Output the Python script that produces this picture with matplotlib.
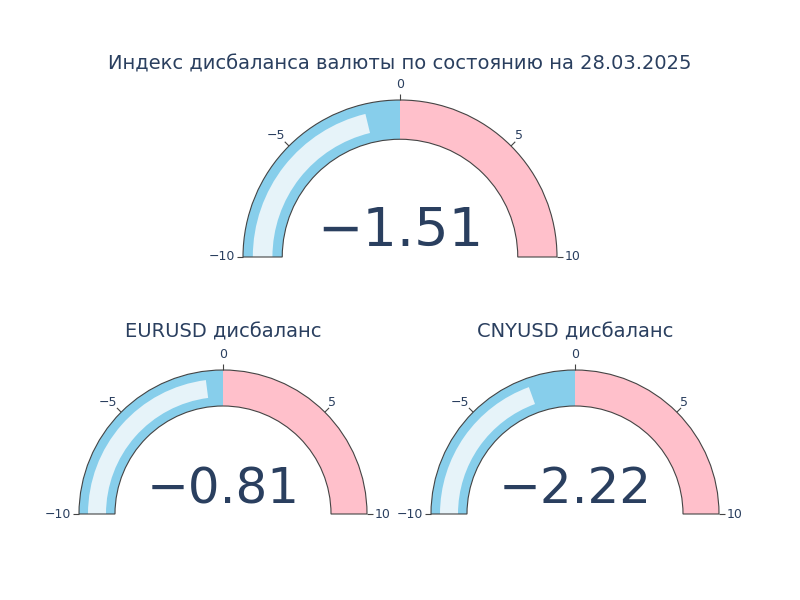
import numpy as np
import matplotlib
matplotlib.use("Agg")
import matplotlib.pyplot as plt
from matplotlib.patches import Wedge

# data
title = "Индекс дисбаланса валюты по состоянию на 28.03.2025"
gauge_titles = ["", "EURUSD дисбаланс", "CNYUSD дисбаланс"]
gauge_values = [-1.51, -0.81, -2.22]
axis_range = [-10, 10]
tick_values = [-10, -5, 0, 5, 10]
step_ranges = [(-10, 0), (0, 10)]
step_colors = ["#87ceeb", "#ffc0cb"]

TEXT = "#2a3f5f"
BORDER = "#444444"
BAR = "#e6f3f9"

plt.rcParams["font.family"] = ["DejaVu Sans"]

W, H = 800, 600
fig = plt.figure(figsize=(8, 6), dpi=100)
ax = fig.add_axes([0, 0, 1, 1])
ax.set_xlim(0, W)
ax.set_ylim(0, H)
ax.set_aspect("equal")
ax.axis("off")


def angle(v):
    lo, hi = axis_range
    return 180.0 - (v - lo) / (hi - lo) * 180.0


# gauge layout: centre (pixels, y up), outer radius, value font size
layout = [((400, 343), 157, 39), ((223, 86), 144, 36), ((575, 86), 144, 36)]

for ((cx, cy), R, vsize), name, val in zip(layout, gauge_titles, gauge_values):
    r_in = 0.75 * R
    band = R - r_in
    for (a, b), c in zip(step_ranges, step_colors):
        ax.add_patch(Wedge((cx, cy), R, angle(b), angle(a), width=band,
                           facecolor=c, edgecolor="none"))
    # value bar
    ax.add_patch(Wedge((cx, cy), R - band * 0.25, angle(val), angle(axis_range[0]),
                       width=band * 0.5, facecolor=BAR, edgecolor="none"))
    # border
    ax.add_patch(Wedge((cx, cy), R, 0, 180, width=band, facecolor="none",
                       edgecolor=BORDER, linewidth=0.8))
    # ticks
    for t in tick_values:
        deg = angle(t)
        th = np.radians(deg)
        ax.plot([cx + R * np.cos(th), cx + (R + 6) * np.cos(th)],
                [cy + R * np.sin(th), cy + (R + 6) * np.sin(th)],
                color=BORDER, lw=0.8, solid_capstyle="butt")
        d = R + 8
        if deg > 150:
            ha, va = "right", "center"
        elif deg > 100:
            ha, va = "right", "bottom"
            d = R + 5
        elif deg > 80:
            ha, va = "center", "bottom"
            d = R + 9
        elif deg > 30:
            ha, va = "left", "bottom"
            d = R + 5
        else:
            ha, va = "left", "center"
        lx, ly = cx + d * np.cos(th), cy + d * np.sin(th)
        ax.text(lx, ly, f"{t}".replace("-", "\u2212"), ha=ha, va=va,
                fontsize=9, color=TEXT)
    # value
    ax.text(cx, cy + 11, f"{val:.2f}".replace("-", "\u2212"), ha="center",
            va="baseline", fontsize=vsize, color=TEXT)
    if name:
        ax.text(cx, cy + R + 33, name, ha="center", va="baseline",
                fontsize=14, color=TEXT)

ax.text(400, H - 69, title, ha="center", va="baseline", fontsize=14, color=TEXT)

fig.savefig("out.png", dpi=100, facecolor="white")
